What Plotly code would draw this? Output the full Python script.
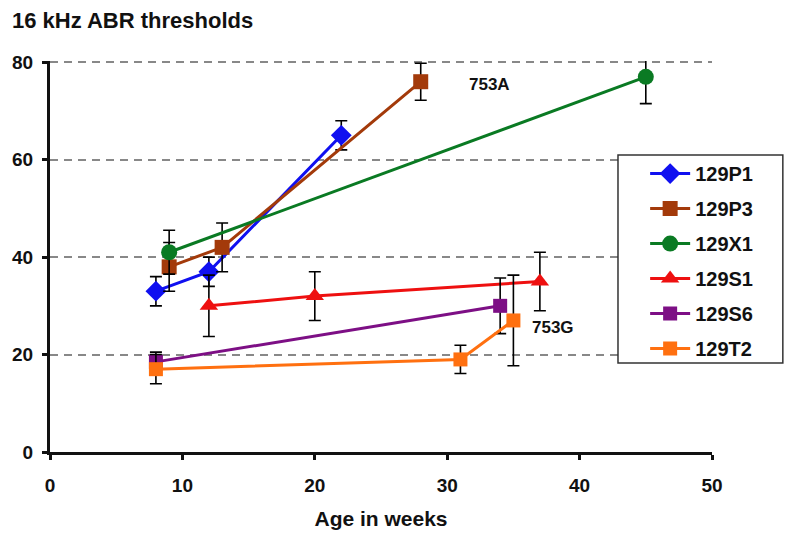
import plotly.graph_objects as go

# Data (age in weeks, threshold, error)
p1_x = [8, 12, 22]
p1_y = [33, 37, 65]
p1_e = [3, 3, 3]

p3_x = [9, 13, 28]
p3_y = [38, 42, 76]
p3_e = [5, 5, 3.8]

x1_x = [9, 45]
x1_y = [41, 77]
x1_e = [4.5, 5.5]

s1_x = [12, 20, 37]
s1_y = [30, 32, 35]
s1_e = [6.3, 5, 6]

s6_x = [8, 34]
s6_y = [18.5, 30]
s6_e = [2, 5.7]

t2_x = [8, 31, 35]
t2_y = [17, 19, 27]
t2_e = [3, 2.9, 9.3]

names = ["129P1", "129P3", "129X1", "129S1", "129S6", "129T2"]
xs = [p1_x, p3_x, x1_x, s1_x, s6_x, t2_x]
ys = [p1_y, p3_y, x1_y, s1_y, s6_y, t2_y]
es = [p1_e, p3_e, x1_e, s1_e, s6_e, t2_e]
colors = ["#1010f0", "#a33a0a", "#0a7a23", "#ee1010", "#7d0f85", "#ff7010"]
symbols = ["diamond", "square", "circle", "triangle-up", "square", "square"]
sizes = [16, 15, 16, 16, 14, 14]

x_ticks = [0, 10, 20, 30, 40, 50]
y_ticks = [0, 20, 40, 60, 80]

fig = go.Figure()
for i in range(len(names)):
    fig.add_trace(go.Scatter(
        x=xs[i], y=ys[i], name=names[i], mode="lines+markers",
        line=dict(color=colors[i], width=3),
        marker=dict(symbol=symbols[i], size=sizes[i], color=colors[i]),
        error_y=dict(type="data", array=es[i], visible=True, color="black",
                     thickness=1.6, width=6),
        legendgroup=names[i], cliponaxis=False,
    ))

fam = "Liberation Sans, Arial"
txt = "#111"

fig.add_annotation(x=33.2, y=75.5, text="<b>753A</b>", showarrow=False,
                   font=dict(size=17, color=txt, family=fam))
fig.add_annotation(x=38.0, y=25.6, text="<b>753G</b>", showarrow=False,
                   font=dict(size=17, color=txt, family=fam))

# legend frame
fig.add_shape(type="rect", xref="paper", yref="paper",
              x0=0.858, x1=1.107, y0=0.2276, y1=0.7596,
              fillcolor="white", line=dict(color="#333", width=1.5), layer="above")

fig.update_layout(
    width=792, height=533,
    margin=dict(l=42, r=88, t=53, b=89, autoexpand=False),
    plot_bgcolor="white", paper_bgcolor="white",
    title=dict(text="<b>16 kHz ABR thresholds</b>", x=0.005, xanchor="left",
               y=0.977, yanchor="middle",
               font=dict(size=22, color=txt, family=fam)),
    xaxis=dict(range=[0, 50], tickvals=x_ticks, showgrid=False, zeroline=False,
               showline=True, linecolor="#111", linewidth=3,
               ticks="outside", ticklen=5, tickwidth=2.5, tickcolor="#111",
               ticklabelstandoff=9, automargin=False,
               tickfont=dict(size=19, color=txt, family=fam, weight="bold"),
               title=dict(text="<b>Age in weeks</b>", standoff=17,
                          font=dict(size=21, color=txt, family=fam))),
    yaxis=dict(range=[0, 80.25], tickvals=y_ticks, showgrid=True,
               gridcolor="#888", griddash="8px,6px", gridwidth=1.5, zeroline=False,
               showline=True, linecolor="#111", linewidth=3,
               ticks="outside", ticklen=5, tickwidth=2.5, tickcolor="#111",
               ticklabelstandoff=5, automargin=False,
               tickfont=dict(size=19, color=txt, family=fam, weight="bold")),
    legend=dict(x=0.899, y=0.762, xanchor="left", yanchor="top",
                bgcolor="rgba(0,0,0,0)", borderwidth=0,
                font=dict(size=20, color=txt, family=fam, weight="bold"),
                tracegroupgap=6, itemwidth=40),
    showlegend=True,
)

fig.write_html("out.html")
